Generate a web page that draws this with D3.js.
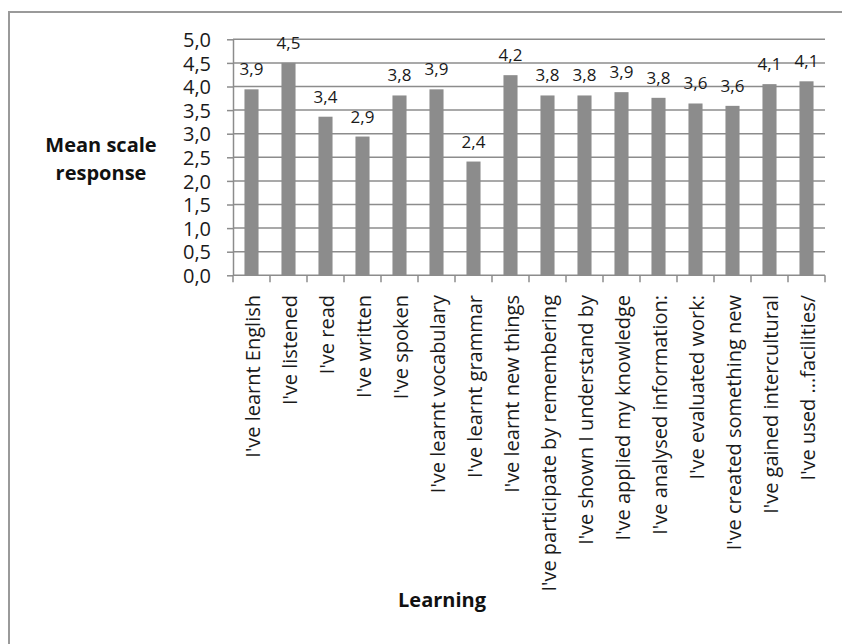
<!DOCTYPE html>
<html>
<head>
<meta charset="utf-8">
<script src="https://cdn.jsdelivr.net/npm/d3@7"></script>
<style>
    body { margin: 0; background: #fff; }
    svg { display: block; font-family: "Open Sans", sans-serif; }
</style>
</head>
<body>
<svg></svg>
<script>
let W = 842;
let H = 644;

// categories along the x axis
let categories = [
    "I've learnt English",
    "I've listened",
    "I've read",
    "I've written",
    "I've spoken",
    "I've learnt vocabulary",
    "I've learnt grammar",
    "I've learnt new things",
    "I've participate by remembering",
    "I've shown I understand by",
    "I've applied my knowledge",
    "I've analysed information:",
    "I've evaluated work:",
    "I've created something new",
    "I've gained intercultural",
    "I've used ...facilities/"];

// mean scale response per category
let values = [3.94, 4.50, 3.36, 2.94, 3.81, 3.94, 2.41, 4.24, 3.81, 3.81, 3.88, 3.76, 3.64, 3.59, 4.05, 4.11];

let yTicks = [0, 0.5, 1, 1.5, 2, 2.5, 3, 3.5, 4, 4.5, 5];

let fmt = function (d) {
    return d.toFixed(1).replace(".", ",");
};

let svg = d3.select("svg").attr("width", W).attr("height", H);

// outer frame (runs off right/bottom like the original)
svg.append("rect")
    .attr("x", 9).attr("y", 12)
    .attr("width", 900).attr("height", 700)
    .attr("fill", "none")
    .attr("stroke", "#9a9a9a")
    .attr("stroke-width", 2);

let pLeft = 233, pRight = 825, pTop = 39.3, pBottom = 275.3;

let x = d3.scaleBand().domain(categories).range([pLeft, pRight]).padding(0);
let y = d3.scaleLinear().domain([0, 5]).range([pBottom, pTop]);

// gridlines
svg.append("g").selectAll("line").data(yTicks.slice(1)).enter().append("line")
    .attr("x1", pLeft).attr("x2", pRight)
    .attr("y1", function (d) { return y(d); })
    .attr("y2", function (d) { return y(d); })
    .attr("stroke", "#8c8c8c")
    .attr("stroke-width", 1.5);

// bars
let barW = x.bandwidth() * 0.38;
svg.append("g").selectAll("rect").data(values).enter().append("rect")
    .attr("x", function (d, i) { return x(categories[i]) + (x.bandwidth() - barW) / 2; })
    .attr("y", function (d) { return y(d); })
    .attr("width", barW)
    .attr("height", function (d) { return y(0) - y(d); })
    .attr("fill", "#8c8c8c");

// y axis
let yAxis = svg.append("g")
    .attr("transform", "translate(" + pLeft + ",0)")
    .call(d3.axisLeft(y).tickValues(yTicks).tickFormat(fmt).tickSizeInner(6).tickSizeOuter(0).tickPadding(16));
yAxis.select(".domain").attr("stroke", "#8c8c8c").attr("stroke-width", 1.5);
yAxis.selectAll(".tick line").attr("stroke", "#8c8c8c").attr("stroke-width", 1.5);
yAxis.selectAll(".tick text")
    .attr("font-family", "Open Sans")
    .attr("font-size", 20)
    .attr("fill", "#1a1a1a")
    .attr("dy", "0.36em");

// x axis baseline + ticks between categories
let xg = svg.append("g");
xg.append("line")
    .attr("x1", pLeft).attr("x2", pRight)
    .attr("y1", pBottom).attr("y2", pBottom)
    .attr("stroke", "#8c8c8c").attr("stroke-width", 1.5);
let bounds = categories.map(function (c) { return x(c); }).concat([pRight]);
xg.selectAll("line.tk").data(bounds).enter().append("line")
    .attr("class", "tk")
    .attr("x1", function (d) { return d; })
    .attr("x2", function (d) { return d; })
    .attr("y1", pBottom).attr("y2", pBottom + 7)
    .attr("stroke", "#8c8c8c").attr("stroke-width", 1.5);

// category labels, rotated
xg.selectAll("text").data(categories).enter().append("text")
    .attr("transform", function (d) {
        return "translate(" + (x(d) + x.bandwidth() / 2 + 8) + "," + 295 + ") rotate(-90)";
    })
    .attr("text-anchor", "end")
    .attr("font-size", 20)
    .attr("fill", "#1a1a1a")
    .text(function (d) { return d; });

// value labels
svg.append("g").selectAll("text").data(values).enter().append("text")
    .attr("x", function (d, i) { return x(categories[i]) + x.bandwidth() / 2; })
    .attr("y", function (d) { return y(d) - 14; })
    .attr("text-anchor", "middle")
    .attr("font-size", 17)
    .attr("fill", "#1a1a1a")
    .text(function (d) { return fmt(Math.round(d * 10) / 10); });

// axis titles
let yt = svg.append("text")
    .attr("x", 101)
    .attr("text-anchor", "middle")
    .attr("font-size", 20)
    .attr("font-weight", "bold")
    .attr("fill", "#111");
yt.append("tspan").attr("x", 101).attr("y", 152).text("Mean scale");
yt.append("tspan").attr("x", 101).attr("y", 180).text("response");

svg.append("text")
    .attr("x", 442).attr("y", 607)
    .attr("text-anchor", "middle")
    .attr("font-size", 20)
    .attr("font-weight", "bold")
    .attr("fill", "#111")
    .text("Learning");
</script>
</body>
</html>
